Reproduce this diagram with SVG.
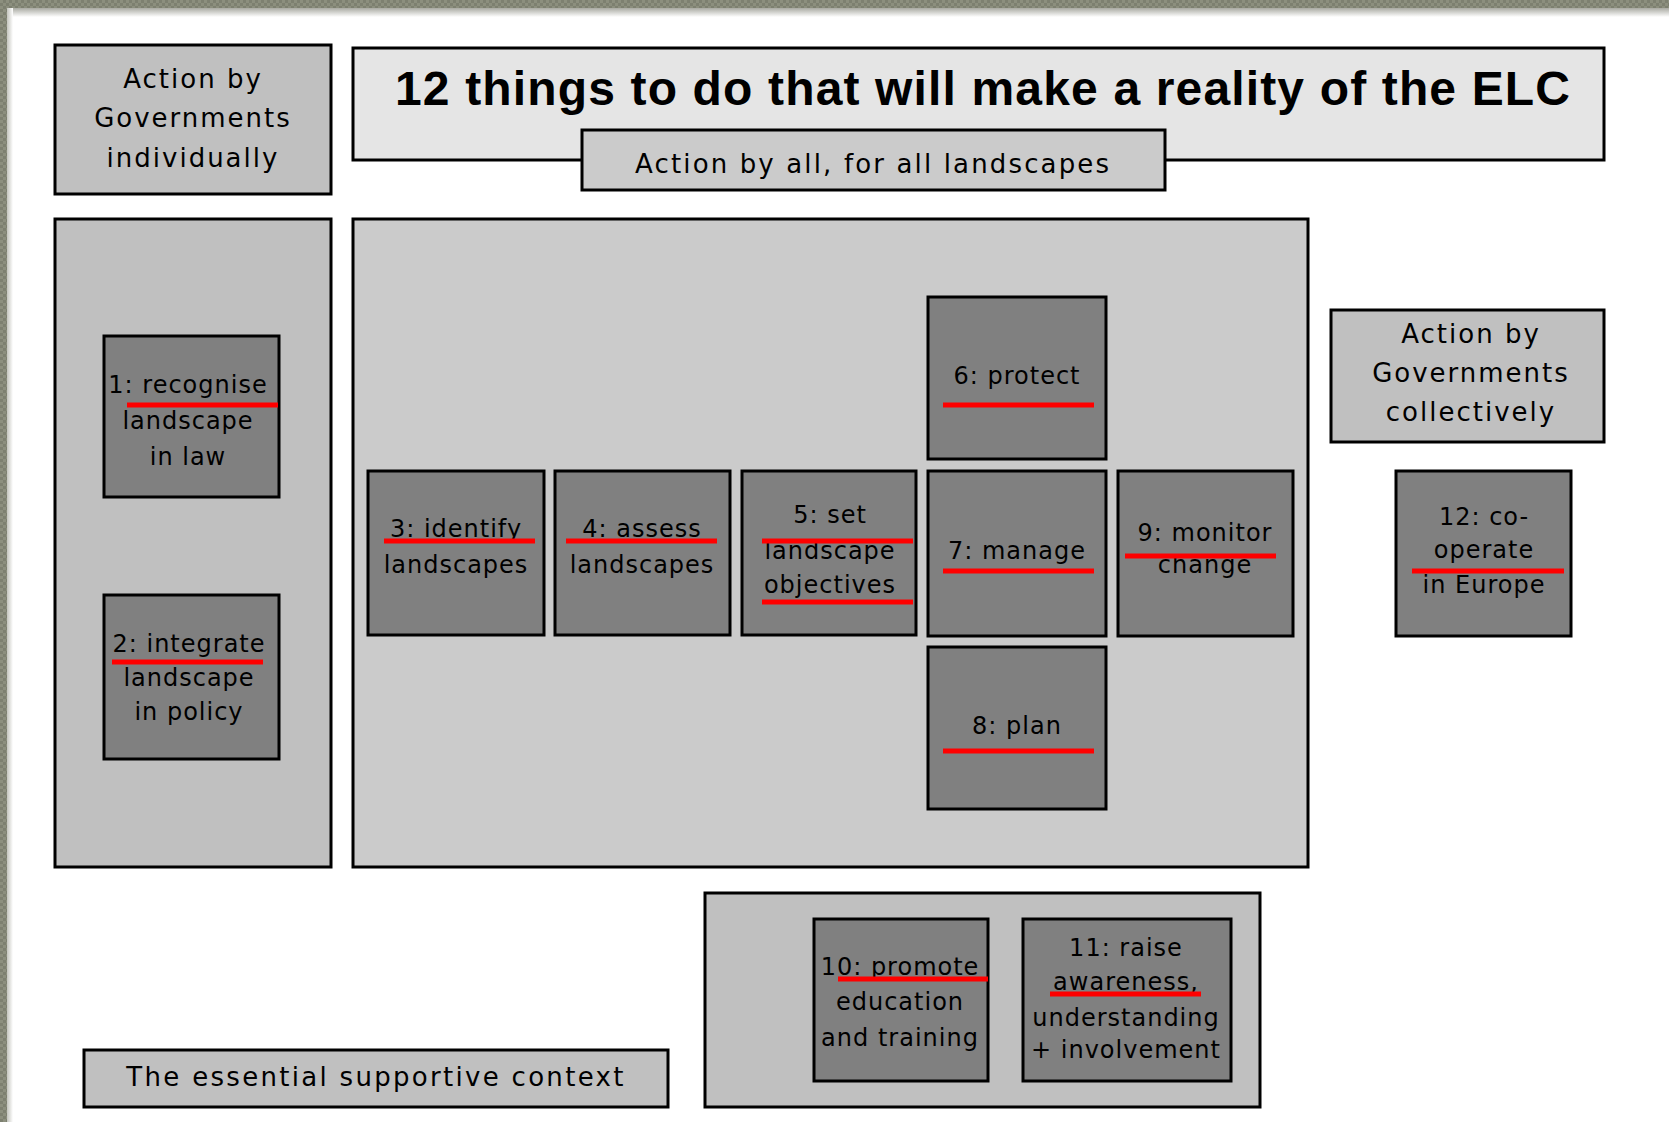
<svg xmlns="http://www.w3.org/2000/svg" width="1669" height="1122" viewBox="0 0 1669 1122">
<defs>
<linearGradient id="shadowTop" x1="0" y1="0" x2="0" y2="1">
<stop offset="0" stop-color="#a9aaa2"/>
<stop offset="1" stop-color="#ffffff"/>
</linearGradient>
<linearGradient id="shadowLeft" x1="0" y1="0" x2="1" y2="0">
<stop offset="0" stop-color="#c4c5be"/>
<stop offset="1" stop-color="#ffffff"/>
</linearGradient>
<pattern id="tex" width="6" height="6" patternUnits="userSpaceOnUse">
<rect width="6" height="6" fill="#7d8070"/>
<rect width="3" height="3" fill="#8c8f7e"/>
<rect x="3" y="3" width="3" height="3" fill="#8c8f7e"/>
</pattern>
</defs>
<style>
.panel{stroke:#000;stroke-width:3}
.lt{fill:#c0c0c0}
.mid{fill:#cbcbcb}
.pale{fill:#e5e5e5}
.step{fill:#808080;stroke:#000;stroke-width:3}
.ul{stroke:#ff0000;stroke-width:5}
text{font-family:"DejaVu Sans","Liberation Sans",sans-serif;fill:#000;text-anchor:middle}
.lbl{font-size:24px;letter-spacing:1px}
.hdr{font-size:26px;letter-spacing:2px}
.title{font-family:"Liberation Sans",Arial,sans-serif;font-weight:bold;font-size:48px;text-anchor:start}
</style>
<rect width="1669" height="1122" fill="#ffffff"/>
<rect x="0" y="8" width="1669" height="9" fill="url(#shadowTop)"/>
<rect x="7" y="8" width="6" height="1114" fill="url(#shadowLeft)"/>
<rect x="0" y="0" width="1669" height="8" fill="url(#tex)"/>
<rect x="0" y="0" width="7" height="1122" fill="url(#tex)"/>

<g id="panel-individually">
<rect class="panel lt" x="55" y="45" width="276" height="149"/>
<text class="hdr" x="193" y="88">Action by</text>
<text class="hdr" x="193" y="127">Governments</text>
<text class="hdr" x="193" y="167">individually</text>
</g>

<g id="title">
<rect class="panel pale" x="353" y="48" width="1251" height="112"/>
<text class="title" x="395" y="105" textLength="1175" lengthAdjust="spacing">12 things to do that will make a reality of the ELC</text>
</g>

<g id="subtitle">
<rect class="panel mid" x="582" y="130" width="583" height="60"/>
<text class="hdr" x="873" y="173" textLength="476" lengthAdjust="spacing">Action by all, for all landscapes</text>
</g>

<g id="panel-left">
<rect class="panel lt" x="55" y="219" width="276" height="648"/>
</g>

<g id="panel-centre">
<rect class="panel mid" x="353" y="219" width="955" height="648"/>
</g>

<g id="panel-collectively">
<rect class="panel lt" x="1331" y="310" width="273" height="132"/>
<text class="hdr" x="1471" y="343">Action by</text>
<text class="hdr" x="1471" y="382">Governments</text>
<text class="hdr" x="1471" y="421">collectively</text>
</g>

<g id="panel-bottom">
<rect class="panel lt" x="705" y="893" width="555" height="214"/>
</g>

<g id="context">
<rect class="panel lt" x="84" y="1050" width="584" height="57"/>
<text class="hdr" x="376" y="1086" style="letter-spacing:2.3px">The essential supportive context</text>
</g>

<g id="step1">
<rect class="step" x="104" y="336" width="175" height="161"/>
<text class="lbl" x="188" y="393">1: recognise</text>
<text class="lbl" x="188" y="429">landscape</text>
<text class="lbl" x="188" y="465">in law</text>
<line class="ul" x1="127" y1="405" x2="278" y2="405"/>
</g>

<g id="step2">
<rect class="step" x="104" y="595" width="175" height="164"/>
<text class="lbl" x="189" y="652">2: integrate</text>
<text class="lbl" x="189" y="686">landscape</text>
<text class="lbl" x="189" y="720">in policy</text>
<line class="ul" x1="112" y1="662" x2="263" y2="662"/>
</g>

<g id="step3">
<rect class="step" x="368" y="471" width="176" height="164"/>
<text class="lbl" x="456" y="537">3: identify</text>
<text class="lbl" x="456" y="573">landscapes</text>
<line class="ul" x1="384" y1="541" x2="535" y2="541"/>
</g>

<g id="step4">
<rect class="step" x="555" y="471" width="175" height="164"/>
<text class="lbl" x="642" y="537">4: assess</text>
<text class="lbl" x="642" y="573">landscapes</text>
<line class="ul" x1="566" y1="541" x2="717" y2="541"/>
</g>

<g id="step5">
<rect class="step" x="742" y="471" width="174" height="164"/>
<text class="lbl" x="830" y="523">5: set</text>
<text class="lbl" x="830" y="559">landscape</text>
<text class="lbl" x="830" y="593">objectives</text>
<line class="ul" x1="762" y1="541" x2="913" y2="541"/>
<line class="ul" x1="762" y1="602" x2="913" y2="602"/>
</g>

<g id="step6">
<rect class="step" x="928" y="297" width="178" height="162"/>
<text class="lbl" x="1017" y="384">6: protect</text>
<line class="ul" x1="943" y1="405" x2="1094" y2="405"/>
</g>

<g id="step7">
<rect class="step" x="928" y="471" width="178" height="165"/>
<text class="lbl" x="1017" y="559">7: manage</text>
<line class="ul" x1="943" y1="571" x2="1094" y2="571"/>
</g>

<g id="step8">
<rect class="step" x="928" y="647" width="178" height="162"/>
<text class="lbl" x="1017" y="734">8: plan</text>
<line class="ul" x1="943" y1="751" x2="1094" y2="751"/>
</g>

<g id="step9">
<rect class="step" x="1118" y="471" width="175" height="165"/>
<text class="lbl" x="1205" y="541">9: monitor</text>
<text class="lbl" x="1205" y="573">change</text>
<line class="ul" x1="1125" y1="556" x2="1276" y2="556"/>
</g>

<g id="step12">
<rect class="step" x="1396" y="471" width="175" height="165"/>
<text class="lbl" x="1484" y="525">12: co-</text>
<text class="lbl" x="1484" y="558">operate</text>
<text class="lbl" x="1484" y="593">in Europe</text>
<line class="ul" x1="1412" y1="571" x2="1564" y2="571"/>
</g>

<g id="step10">
<rect class="step" x="814" y="919" width="174" height="162"/>
<text class="lbl" x="900" y="975">10: promote</text>
<text class="lbl" x="900" y="1010">education</text>
<text class="lbl" x="900" y="1046">and training</text>
<line class="ul" x1="838" y1="979" x2="988" y2="979"/>
</g>

<g id="step11">
<rect class="step" x="1023" y="919" width="208" height="162"/>
<text class="lbl" x="1126" y="956">11: raise</text>
<text class="lbl" x="1126" y="990">awareness,</text>
<text class="lbl" x="1126" y="1026">understanding</text>
<text class="lbl" x="1126" y="1058">+ involvement</text>
<line class="ul" x1="1050" y1="994" x2="1201" y2="994"/>
</g>

<g id="connectors"/>
</svg>
